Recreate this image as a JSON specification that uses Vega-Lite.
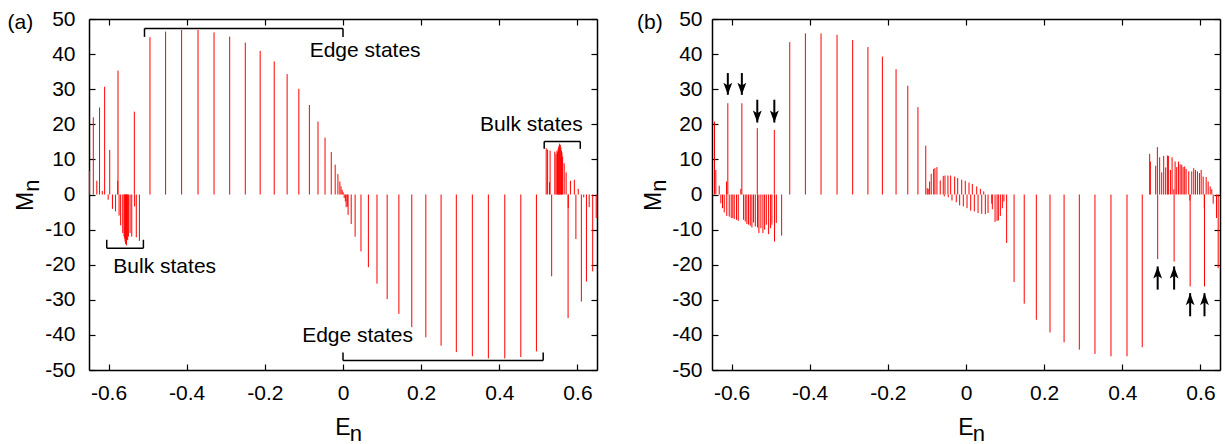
{
  "$schema": "https://vega.github.io/schema/vega-lite/v6.json",
  "padding": {"left": 7, "top": 8, "right": 4, "bottom": 0},
  "config": {
    "font": "Liberation Sans",
    "view": {"stroke": null},
    "axis": {
      "domainColor": "#000", "domainWidth": 1.5, "tickColor": "#000", "tickWidth": 1.2, "tickSize": -6,
      "labelColor": "#000", "labelFontSize": 21, "labelFont": "Liberation Sans", "labelPadding": 18,
      "titleColor": "#000", "titleFontSize": 22, "titleFontWeight": "normal", "titleFont": "Liberation Sans",
      "grid": false, "labelFlush": false, "labelOverlap": false
    },
    "text": {"font": "Liberation Sans", "fontSize": 21, "color": "#000"}
  },
  "datasets": {
    "specA": [
      {"E": -0.649, "M": 6.7}, {"E": -0.639, "M": 22.0}, {"E": -0.630, "M": 3.9}, {"E": -0.623, "M": 24.8},
      {"E": -0.616, "M": 1.0}, {"E": -0.610, "M": 30.7}, {"E": -0.601, "M": -1.5}, {"E": -0.597, "M": 12.7},
      {"E": -0.590, "M": -4.1}, {"E": -0.582, "M": -4.8}, {"E": -0.5765, "M": 3.9}, {"E": -0.5758, "M": 35.3},
      {"E": -0.573, "M": -6.0}, {"E": -0.569, "M": -8.8}, {"E": -0.5636, "M": -11.0}, {"E": -0.5603, "M": -12.0},
      {"E": -0.5585, "M": -12.6}, {"E": -0.5577, "M": -13.4}, {"E": -0.556, "M": -14.1}, {"E": -0.555, "M": -14.0},
      {"E": -0.5543, "M": -14.5}, {"E": -0.5526, "M": -12.8}, {"E": -0.551, "M": -13.0}, {"E": -0.5492, "M": -12.0},
      {"E": -0.5449, "M": -11.0}, {"E": -0.5406, "M": -12.0}, {"E": -0.534, "M": 23.6}, {"E": -0.5333, "M": -3.4},
      {"E": -0.529, "M": -12.2}, {"E": -0.521, "M": -13.2},
      {"E": -0.494, "M": 44.8}, {"E": -0.454, "M": 46.4}, {"E": -0.413, "M": 46.9}, {"E": -0.371, "M": 46.9},
      {"E": -0.330, "M": 46.2}, {"E": -0.290, "M": 45.0}, {"E": -0.250, "M": 43.3}, {"E": -0.212, "M": 40.9},
      {"E": -0.176, "M": 37.9}, {"E": -0.143, "M": 34.3}, {"E": -0.113, "M": 30.1}, {"E": -0.086, "M": 25.5},
      {"E": -0.064, "M": 20.8}, {"E": -0.046, "M": 16.2}, {"E": -0.030, "M": 12.1}, {"E": -0.020, "M": 8.5},
      {"E": -0.013, "M": 5.8}, {"E": -0.008, "M": 3.7}, {"E": -0.005, "M": 2.3}, {"E": -0.002, "M": 1.3},
      {"E": 0.0005, "M": 0.6}, {"E": 0.003, "M": -1.0}, {"E": 0.006, "M": -2.0}, {"E": 0.008, "M": -3.6},
      {"E": 0.011, "M": -3.4}, {"E": 0.013, "M": -5.8}, {"E": 0.021, "M": -8.4}, {"E": 0.031, "M": -12.0},
      {"E": 0.046, "M": -16.2}, {"E": 0.065, "M": -20.7}, {"E": 0.087, "M": -25.4}, {"E": 0.113, "M": -29.8},
      {"E": 0.143, "M": -34.0}, {"E": 0.176, "M": -37.8}, {"E": 0.212, "M": -40.7}, {"E": 0.251, "M": -43.1},
      {"E": 0.290, "M": -44.9}, {"E": 0.331, "M": -46.1}, {"E": 0.372, "M": -46.7}, {"E": 0.414, "M": -46.7},
      {"E": 0.455, "M": -46.3}, {"E": 0.495, "M": -44.7},
      {"E": 0.520, "M": 13.2}, {"E": 0.5236, "M": 12.8}, {"E": 0.5285, "M": 3.5}, {"E": 0.530, "M": 12.5},
      {"E": 0.534, "M": -23.3}, {"E": 0.542, "M": 12.2}, {"E": 0.545, "M": 11.5}, {"E": 0.5475, "M": 12.5},
      {"E": 0.549, "M": 12.0}, {"E": 0.5505, "M": 13.0}, {"E": 0.552, "M": 13.5}, {"E": 0.553, "M": 14.0},
      {"E": 0.5545, "M": 14.5}, {"E": 0.556, "M": 14.1}, {"E": 0.5575, "M": 13.4}, {"E": 0.559, "M": 12.5},
      {"E": 0.5603, "M": 12.0}, {"E": 0.562, "M": 10.8}, {"E": 0.566, "M": 8.9}, {"E": 0.571, "M": 6.3},
      {"E": 0.576, "M": -35.2}, {"E": 0.5765, "M": -3.9}, {"E": 0.582, "M": 3.9}, {"E": 0.592, "M": 4.2},
      {"E": 0.596, "M": -12.7}, {"E": 0.602, "M": 1.6}, {"E": 0.610, "M": -30.5}, {"E": 0.616, "M": -0.8},
      {"E": 0.623, "M": -24.8}, {"E": 0.630, "M": -3.6}, {"E": 0.639, "M": -21.9}, {"E": 0.648, "M": -6.7}
    ],
    "specB": [
      {"E": -0.6436, "M": 20.8}, {"E": -0.6402, "M": 7.0}, {"E": -0.6315, "M": 2.5}, {"E": -0.6274, "M": -2.5},
      {"E": -0.6231, "M": -3.9}, {"E": -0.6187, "M": -5.1}, {"E": -0.6128, "M": 3.7}, {"E": -0.6122, "M": -6.1},
      {"E": -0.6095, "M": 26.0}, {"E": -0.6059, "M": -6.3}, {"E": -0.6008, "M": -6.7}, {"E": -0.5967, "M": -6.7},
      {"E": -0.5931, "M": -7.0}, {"E": -0.5872, "M": -7.2}, {"E": -0.5828, "M": -7.5}, {"E": -0.5762, "M": 1.6},
      {"E": -0.5736, "M": 26.0}, {"E": -0.5692, "M": -7.2}, {"E": -0.5649, "M": -7.7}, {"E": -0.5608, "M": -8.4},
      {"E": -0.5564, "M": -8.6}, {"E": -0.5521, "M": -8.9}, {"E": -0.5479, "M": -9.4}, {"E": -0.5436, "M": -8.0},
      {"E": -0.5392, "M": -9.1}, {"E": -0.5341, "M": 18.9}, {"E": -0.5336, "M": -9.4}, {"E": -0.530, "M": -11.0},
      {"E": -0.5249, "M": -9.6}, {"E": -0.5197, "M": -11.0}, {"E": -0.5154, "M": -10.0}, {"E": -0.511, "M": -8.6},
      {"E": -0.5051, "M": -11.3}, {"E": -0.500, "M": -9.6}, {"E": -0.4967, "M": -8.6}, {"E": -0.4905, "M": 18.4},
      {"E": -0.490, "M": -13.4}, {"E": -0.4854, "M": -8.1}, {"E": -0.4718, "M": -11.7},
      {"E": -0.451, "M": 43.4}, {"E": -0.411, "M": 45.9}, {"E": -0.371, "M": 45.9}, {"E": -0.330, "M": 45.5},
      {"E": -0.290, "M": 44.0}, {"E": -0.251, "M": 42.0}, {"E": -0.214, "M": 39.3}, {"E": -0.179, "M": 35.7},
      {"E": -0.149, "M": 31.0}, {"E": -0.123, "M": 24.9}, {"E": -0.103, "M": 13.9},
      {"E": -0.0992, "M": 1.8}, {"E": -0.0967, "M": 1.6}, {"E": -0.0931, "M": 3.7}, {"E": -0.089, "M": 5.9},
      {"E": -0.0828, "M": 7.3}, {"E": -0.0795, "M": 7.5}, {"E": -0.0744, "M": 7.8}, {"E": -0.0659, "M": 4.0},
      {"E": -0.0582, "M": 5.3}, {"E": -0.0556, "M": -0.5}, {"E": -0.0538, "M": 5.4}, {"E": -0.0462, "M": 5.4},
      {"E": -0.0455, "M": -0.8}, {"E": -0.0392, "M": 5.4}, {"E": -0.0359, "M": -1.7}, {"E": -0.029, "M": 5.1},
      {"E": -0.0249, "M": -2.2}, {"E": -0.0213, "M": 4.7}, {"E": -0.0162, "M": -3.1}, {"E": -0.011, "M": 4.2},
      {"E": -0.0069, "M": -3.4}, {"E": -0.0018, "M": 3.9}, {"E": 0.0026, "M": -3.9}, {"E": 0.0077, "M": 3.4},
      {"E": 0.012, "M": -4.6}, {"E": 0.0162, "M": 3.0}, {"E": 0.0213, "M": -4.8}, {"E": 0.0274, "M": 2.3},
      {"E": 0.0308, "M": -5.3}, {"E": 0.0367, "M": 1.6}, {"E": 0.0403, "M": -5.5}, {"E": 0.0454, "M": 0.9},
      {"E": 0.0495, "M": -5.6}, {"E": 0.0564, "M": -5.3}, {"E": 0.0659, "M": -2.6}, {"E": 0.0674, "M": -4.2},
      {"E": 0.0744, "M": -7.8}, {"E": 0.0795, "M": -7.5}, {"E": 0.0828, "M": -7.4}, {"E": 0.0879, "M": -6.1},
      {"E": 0.093, "M": -3.9}, {"E": 0.097, "M": -2.0}, {"E": 0.104, "M": -13.8},
      {"E": 0.123, "M": -24.9}, {"E": 0.149, "M": -31.1}, {"E": 0.180, "M": -35.7}, {"E": 0.215, "M": -39.3},
      {"E": 0.251, "M": -42.1}, {"E": 0.290, "M": -44.2}, {"E": 0.330, "M": -45.4}, {"E": 0.371, "M": -46.1},
      {"E": 0.412, "M": -46.1}, {"E": 0.451, "M": -43.5},
      {"E": 0.470, "M": 11.6}, {"E": 0.4718, "M": 9.4}, {"E": 0.4854, "M": 8.2}, {"E": 0.4897, "M": 13.5},
      {"E": 0.4905, "M": -18.4}, {"E": 0.4956, "M": 10.6}, {"E": 0.5008, "M": 6.3}, {"E": 0.5059, "M": 11.0},
      {"E": 0.511, "M": 7.7}, {"E": 0.5154, "M": 11.1}, {"E": 0.5179, "M": 11.0}, {"E": 0.5231, "M": 7.0},
      {"E": 0.5274, "M": 10.6}, {"E": 0.532, "M": 1.5}, {"E": 0.5326, "M": -19.1}, {"E": 0.5351, "M": 9.4},
      {"E": 0.5392, "M": 7.8}, {"E": 0.5436, "M": 9.4}, {"E": 0.5479, "M": 8.6}, {"E": 0.5521, "M": 8.5},
      {"E": 0.5556, "M": 7.8}, {"E": 0.5597, "M": 8.0}, {"E": 0.5633, "M": 7.3}, {"E": 0.570, "M": 6.6},
      {"E": 0.573, "M": -1.7}, {"E": 0.5736, "M": -26.2}, {"E": 0.5777, "M": 6.6}, {"E": 0.5828, "M": 7.5},
      {"E": 0.5872, "M": 7.0}, {"E": 0.5923, "M": 6.6}, {"E": 0.5974, "M": 6.1}, {"E": 0.6018, "M": 7.0},
      {"E": 0.6069, "M": 5.1}, {"E": 0.6098, "M": -3.9}, {"E": 0.6103, "M": -26.2}, {"E": 0.6146, "M": 5.0},
      {"E": 0.6197, "M": 3.7}, {"E": 0.6249, "M": 2.3}, {"E": 0.629, "M": 1.5}, {"E": 0.6326, "M": -2.6},
      {"E": 0.641, "M": -6.7}, {"E": 0.6454, "M": -21.0}
    ],
    "bracketsA": [
      {"x1": -0.508, "x2": 0.0, "y1": 47.3, "y2": 47.3},
      {"x1": -0.508, "x2": -0.508, "y1": 47.3, "y2": 44.9},
      {"x1": 0.0, "x2": 0.0, "y1": 47.3, "y2": 44.9},
      {"x1": -0.6046, "x2": -0.5108, "y1": -15.3, "y2": -15.3},
      {"x1": -0.6046, "x2": -0.6046, "y1": -15.3, "y2": -12.9},
      {"x1": -0.5108, "x2": -0.5108, "y1": -15.3, "y2": -12.9},
      {"x1": 0.5149, "x2": 0.6072, "y1": 15.1, "y2": 15.1},
      {"x1": 0.5149, "x2": 0.5149, "y1": 15.1, "y2": 13.0},
      {"x1": 0.6072, "x2": 0.6072, "y1": 15.1, "y2": 13.0},
      {"x1": 0.0, "x2": 0.5123, "y1": -47.3, "y2": -47.3},
      {"x1": 0.0, "x2": 0.0, "y1": -47.3, "y2": -45.0},
      {"x1": 0.5123, "x2": 0.5123, "y1": -47.3, "y2": -45.0}
    ],
    "labelsA": [
      {"E": -0.0853, "M": 39.1, "label": "Edge states"},
      {"E": -0.5877, "M": -22.4, "label": "Bulk states"},
      {"E": 0.3508, "M": 18.2, "label": "Bulk states"},
      {"E": -0.1046, "M": -42.1, "label": "Edge states"}
    ],
    "arrowsB": [
      {"E": -0.6095, "tail": 34.6, "tip": 28.4, "dir": "down"},
      {"E": -0.5736, "tail": 34.6, "tip": 28.4, "dir": "down"},
      {"E": -0.5341, "tail": 27.0, "tip": 20.5, "dir": "down"},
      {"E": -0.4905, "tail": 27.0, "tip": 20.5, "dir": "down"},
      {"E": 0.4905, "tail": -27.1, "tip": -20.5, "dir": "up"},
      {"E": 0.5326, "tail": -27.1, "tip": -20.5, "dir": "up"},
      {"E": 0.5736, "tail": -34.7, "tip": -28.1, "dir": "up"},
      {"E": 0.6103, "tail": -34.7, "tip": -28.1, "dir": "up"}
    ]
  },
  "bounds": "flush",
  "spacing": 115,
  "hconcat": [
    {
      "width": 508, "height": 351,
      "resolve": {"axis": {"x": "independent", "y": "independent"}},
      "layer": [
        {
          "data": {"name": "specA"},
          "mark": {"type": "rule", "color": "#ff0000", "strokeWidth": 1},
          "encoding": {
            "x": {"field": "E", "type": "quantitative", "scale": {"domain": [-0.65, 0.65], "nice": false, "zero": false},
                  "axis": {"orient": "bottom", "values": [-0.6, -0.4, -0.2, 0, 0.2, 0.4, 0.6], "title": null, "labelPadding": 18,
                           "labelExpr": "replace(format(datum.value, '~g'), '\u2212', '-')"}},
            "y": {"field": "M", "type": "quantitative", "scale": {"domain": [-50, 50], "nice": false, "zero": false},
                  "axis": {"orient": "left", "values": [-50, -40, -30, -20, -10, 0, 10, 20, 30, 40, 50], "title": null, "labelPadding": 20,
                           "labelExpr": "replace(format(datum.value, '~g'), '\u2212', '-')"}},
            "y2": {"datum": 0}
          }
        },
        {
          "data": {"name": "bracketsA"},
          "mark": {"type": "rule", "color": "#000", "strokeWidth": 1.5},
          "encoding": {
            "x": {"field": "x1", "type": "quantitative", "scale": {"domain": [-0.65, 0.65], "nice": false, "zero": false},
                  "axis": {"orient": "top", "values": [-0.6, -0.4, -0.2, 0, 0.2, 0.4, 0.6], "labels": false, "title": null}},
            "x2": {"field": "x2"},
            "y": {"field": "y1", "type": "quantitative", "scale": {"domain": [-50, 50], "nice": false, "zero": false},
                  "axis": {"orient": "right", "values": [-50, -40, -30, -20, -10, 0, 10, 20, 30, 40, 50], "labels": false, "title": null}},
            "y2": {"field": "y2"}
          }
        },
        {
          "data": {"name": "labelsA"},
          "mark": {"type": "text", "align": "left", "baseline": "alphabetic", "fontSize": 21, "color": "#000"},
          "encoding": {
            "x": {"field": "E", "type": "quantitative", "scale": {"domain": [-0.65, 0.65], "nice": false, "zero": false}, "axis": null},
            "y": {"field": "M", "type": "quantitative", "scale": {"domain": [-50, 50], "nice": false, "zero": false}, "axis": null},
            "text": {"field": "label"}
          }
        },
        {
          "data": {"values": [{}]},
          "mark": {"type": "text", "text": "(a)", "align": "left", "baseline": "alphabetic", "fontSize": 21, "dx": -81.4, "dy": 9.6, "color": "#000"},
          "encoding": {
            "x": {"datum": -0.65, "type": "quantitative", "scale": {"domain": [-0.65, 0.65], "nice": false, "zero": false}, "axis": null},
            "y": {"datum": 50, "type": "quantitative", "scale": {"domain": [-50, 50], "nice": false, "zero": false}, "axis": null}
          }
        },
        {
          "data": {"values": [{}]},
          "mark": {"type": "text", "text": "E", "align": "center", "baseline": "alphabetic", "fontSize": 23, "dy": 65, "color": "#000"},
          "encoding": {
            "x": {"datum": 0, "type": "quantitative", "scale": {"domain": [-0.65, 0.65], "nice": false, "zero": false}, "axis": null},
            "y": {"datum": -50, "type": "quantitative", "scale": {"domain": [-50, 50], "nice": false, "zero": false}, "axis": null}
          }
        },
        {
          "data": {"values": [{}]},
          "mark": {"type": "text", "text": "n", "align": "left", "baseline": "alphabetic", "fontSize": 22, "dx": 6.8, "dy": 70.5, "color": "#000"},
          "encoding": {
            "x": {"datum": 0, "type": "quantitative", "scale": {"domain": [-0.65, 0.65], "nice": false, "zero": false}, "axis": null},
            "y": {"datum": -50, "type": "quantitative", "scale": {"domain": [-50, 50], "nice": false, "zero": false}, "axis": null}
          }
        },
        {
          "data": {"values": [{}]},
          "mark": {"type": "text", "text": "M", "angle": 270, "align": "center", "baseline": "alphabetic", "fontSize": 23, "dx": -7, "dy": -55.7, "color": "#000"},
          "encoding": {
            "x": {"datum": -0.65, "type": "quantitative", "scale": {"domain": [-0.65, 0.65], "nice": false, "zero": false}, "axis": null},
            "y": {"datum": 0, "type": "quantitative", "scale": {"domain": [-50, 50], "nice": false, "zero": false}, "axis": null}
          }
        },
        {
          "data": {"values": [{}]},
          "mark": {"type": "text", "text": "n", "angle": 270, "align": "left", "baseline": "alphabetic", "fontSize": 22, "dx": 2.7, "dy": -50.5, "color": "#000"},
          "encoding": {
            "x": {"datum": -0.65, "type": "quantitative", "scale": {"domain": [-0.65, 0.65], "nice": false, "zero": false}, "axis": null},
            "y": {"datum": 0, "type": "quantitative", "scale": {"domain": [-50, 50], "nice": false, "zero": false}, "axis": null}
          }
        }
      ]
    },
    {
      "width": 508, "height": 351,
      "resolve": {"axis": {"x": "independent", "y": "independent"}},
      "layer": [
        {
          "data": {"name": "specB"},
          "mark": {"type": "rule", "color": "#ff0000", "strokeWidth": 1},
          "encoding": {
            "x": {"field": "E", "type": "quantitative", "scale": {"domain": [-0.65, 0.65], "nice": false, "zero": false},
                  "axis": {"orient": "bottom", "values": [-0.6, -0.4, -0.2, 0, 0.2, 0.4, 0.6], "title": null, "labelPadding": 18,
                           "labelExpr": "replace(format(datum.value, '~g'), '\u2212', '-')"}},
            "y": {"field": "M", "type": "quantitative", "scale": {"domain": [-50, 50], "nice": false, "zero": false},
                  "axis": {"orient": "left", "values": [-50, -40, -30, -20, -10, 0, 10, 20, 30, 40, 50], "title": null, "labelPadding": 16,
                           "labelExpr": "replace(format(datum.value, '~g'), '\u2212', '-')"}},
            "y2": {"datum": 0}
          }
        },
        {
          "data": {"name": "arrowsB"},
          "mark": {"type": "rule", "color": "#000", "strokeWidth": 2},
          "encoding": {
            "x": {"field": "E", "type": "quantitative", "scale": {"domain": [-0.65, 0.65], "nice": false, "zero": false},
                  "axis": {"orient": "top", "values": [-0.6, -0.4, -0.2, 0, 0.2, 0.4, 0.6], "labels": false, "title": null}},
            "y": {"field": "tail", "type": "quantitative", "scale": {"domain": [-50, 50], "nice": false, "zero": false},
                  "axis": {"orient": "right", "values": [-50, -40, -30, -20, -10, 0, 10, 20, 30, 40, 50], "labels": false, "title": null}},
            "y2": {"field": "tip"}
          }
        },
        {
          "data": {"name": "arrowsB"},
          "transform": [{"filter": "datum.dir == 'down'"}],
          "mark": {"type": "point", "shape": "M0,0L-0.55,-1.5L0,-1.15L0.55,-1.5Z", "filled": true, "color": "#000", "opacity": 1, "size": 256, "strokeWidth": 0},
          "encoding": {
            "x": {"field": "E", "type": "quantitative", "scale": {"domain": [-0.65, 0.65], "nice": false, "zero": false}, "axis": null},
            "y": {"field": "tip", "type": "quantitative", "scale": {"domain": [-50, 50], "nice": false, "zero": false}, "axis": null}
          }
        },
        {
          "data": {"name": "arrowsB"},
          "transform": [{"filter": "datum.dir == 'up'"}],
          "mark": {"type": "point", "shape": "M0,0L-0.55,1.5L0,1.15L0.55,1.5Z", "filled": true, "color": "#000", "opacity": 1, "size": 256, "strokeWidth": 0},
          "encoding": {
            "x": {"field": "E", "type": "quantitative", "scale": {"domain": [-0.65, 0.65], "nice": false, "zero": false}, "axis": null},
            "y": {"field": "tip", "type": "quantitative", "scale": {"domain": [-50, 50], "nice": false, "zero": false}, "axis": null}
          }
        },
        {
          "data": {"values": [{}]},
          "mark": {"type": "text", "text": "(b)", "align": "left", "baseline": "alphabetic", "fontSize": 21, "dx": -75, "dy": 9.6, "color": "#000"},
          "encoding": {
            "x": {"datum": -0.65, "type": "quantitative", "scale": {"domain": [-0.65, 0.65], "nice": false, "zero": false}, "axis": null},
            "y": {"datum": 50, "type": "quantitative", "scale": {"domain": [-50, 50], "nice": false, "zero": false}, "axis": null}
          }
        },
        {
          "data": {"values": [{}]},
          "mark": {"type": "text", "text": "E", "align": "center", "baseline": "alphabetic", "fontSize": 23, "dy": 65, "color": "#000"},
          "encoding": {
            "x": {"datum": 0, "type": "quantitative", "scale": {"domain": [-0.65, 0.65], "nice": false, "zero": false}, "axis": null},
            "y": {"datum": -50, "type": "quantitative", "scale": {"domain": [-50, 50], "nice": false, "zero": false}, "axis": null}
          }
        },
        {
          "data": {"values": [{}]},
          "mark": {"type": "text", "text": "n", "align": "left", "baseline": "alphabetic", "fontSize": 22, "dx": 6.8, "dy": 70.5, "color": "#000"},
          "encoding": {
            "x": {"datum": 0, "type": "quantitative", "scale": {"domain": [-0.65, 0.65], "nice": false, "zero": false}, "axis": null},
            "y": {"datum": -50, "type": "quantitative", "scale": {"domain": [-50, 50], "nice": false, "zero": false}, "axis": null}
          }
        },
        {
          "data": {"values": [{}]},
          "mark": {"type": "text", "text": "M", "angle": 270, "align": "center", "baseline": "alphabetic", "fontSize": 23, "dx": -7, "dy": -51, "color": "#000"},
          "encoding": {
            "x": {"datum": -0.65, "type": "quantitative", "scale": {"domain": [-0.65, 0.65], "nice": false, "zero": false}, "axis": null},
            "y": {"datum": 0, "type": "quantitative", "scale": {"domain": [-50, 50], "nice": false, "zero": false}, "axis": null}
          }
        },
        {
          "data": {"values": [{}]},
          "mark": {"type": "text", "text": "n", "angle": 270, "align": "left", "baseline": "alphabetic", "fontSize": 22, "dx": 2.7, "dy": -45.8, "color": "#000"},
          "encoding": {
            "x": {"datum": -0.65, "type": "quantitative", "scale": {"domain": [-0.65, 0.65], "nice": false, "zero": false}, "axis": null},
            "y": {"datum": 0, "type": "quantitative", "scale": {"domain": [-50, 50], "nice": false, "zero": false}, "axis": null}
          }
        }
      ]
    }
  ]
}
